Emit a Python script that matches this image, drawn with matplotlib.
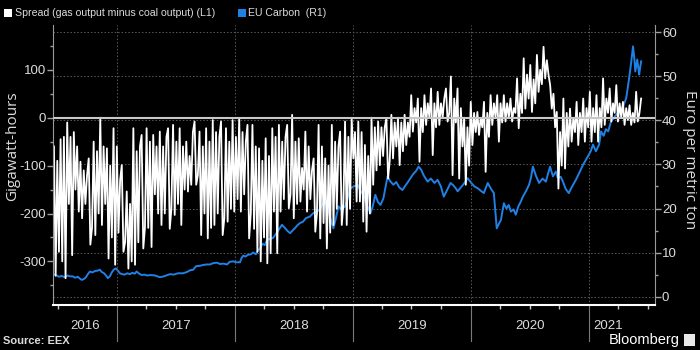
import matplotlib
matplotlib.use("Agg")
import matplotlib.pyplot as plt
import matplotlib.dates as mdates
import matplotlib.transforms as mtransforms
from matplotlib.patches import Rectangle
import numpy as np
import pandas as pd

# ---------------- data ----------------
spread_start = "2016-06-19"
spread_end = "2021-06-11"
spread_gwh = [
    -60, -330, -90, -280, -45, -300, -40, -335, -10, -180, -40, -287, -30, -150, -60, -196,
    -92, -210, -110, -180, -120, -85, -265, -230, -50, -245, -70, -200, 0, -224, -60, -180,
    -64, -294, -100, -250, -22, -307, -60, -240, -130, -99, -280, -260, -154, -315, -180, -300,
    -22, -307, -70, -260, -60, -36, -273, -230, -22, -230, -50, -270, -36, -160, -60, -200,
    -29, -224, -60, -200, -40, -22, -232, -190, -15, -203, -50, -180, -22, -224, -60, -150,
    -50, -154, -80, -140, -30, -8, -140, -120, -29, -245, -60, -200, -22, -252, -50, -230,
    -5, -224, -30, -200, -40, -8, -245, -210, -22, -217, -50, -190, -5, -196, -40, -170,
    -1, -196, -30, -160, -50, -15, -252, -200, -15, -232, -60, -280, -64, -300, -90, -250,
    -43, -304, -80, -283, -22, -196, -40, -283, -15, -196, -50, -170, -40, -15, -189, -160,
    6, -210, -50, -180, -43, -175, -105, -150, -29, -196, -60, -170, -110, -85, -238, -200,
    -15, -252, -60, -220, -85, -273, -100, -240, -15, -224, -50, -190, -60, -29, -224, -180,
    -8, -224, -40, -190, -1, -85, -30, -175, -8, -175, -30, -217, -57, -238, -80, -200,
    0, -140, -20, -110, -8, -99, -20, -80, -20, -1, -127, -90, 6, -85, -10, -60,
    0, -99, -10, -70, 6, -57, -10, -40, 47, -29, 20, -10, 40, -92, 20, -30,
    47, -15, 30, 0, 61, -78, 30, -20, 54, -15, 30, 0, 40, 61, -8, 10,
    86, -120, 40, -10, 61, -127, 20, -60, 0, -140, -20, -100, 33, -57, 10, -30,
    12, -36, 0, -20, 33, -113, 10, -40, 47, -15, 30, 0, 47, -50, 30, -10,
    47, -8, 30, 0, 40, -8, 20, 10, 82, -22, 50, 10, 124, 19, 90, 40,
    110, 12, 80, 30, 131, 54, 100, 70, 148, 82, 120, 90, 68, 19, 50, -20,
    12, -148, -30, -100, 40, -106, 10, -60, 19, -50, 0, -30, 33, -57, 10, -30,
    40, -50, 20, -20, 54, -50, 20, -30, 47, -50, 20, -20, 82, -15, 40, 10,
    61, -8, 30, 10, 68, -8, 30, 0, 33, -15, 20, -5, 26, -15, 10, -10,
    54, -8, 10, 40,
]

carbon_dates = [
    "2016-06-21", "2016-06-27", "2016-07-05", "2016-07-13", "2016-07-22", "2016-08-01", "2016-08-08",
    "2016-08-16", "2016-08-24", "2016-09-01", "2016-09-07", "2016-09-13", "2016-09-20", "2016-09-26",
    "2016-10-02", "2016-10-08", "2016-10-16", "2016-10-24", "2016-11-01", "2016-11-08", "2016-11-14",
    "2016-11-21", "2016-11-27", "2016-12-03", "2016-12-09", "2016-12-15", "2016-12-22", "2016-12-28",
    "2017-01-03", "2017-01-09", "2017-01-16", "2017-01-24", "2017-02-01", "2017-02-09", "2017-02-17",
    "2017-02-24", "2017-03-02", "2017-03-10", "2017-03-18", "2017-03-26", "2017-04-03", "2017-04-15",
    "2017-04-28", "2017-05-06", "2017-05-13", "2017-05-25", "2017-06-05", "2017-06-13", "2017-06-25",
    "2017-07-08", "2017-07-24", "2017-08-05", "2017-08-15", "2017-08-24", "2017-09-02", "2017-09-14",
    "2017-09-25", "2017-10-05", "2017-10-15", "2017-10-25", "2017-11-06", "2017-11-15", "2017-11-25",
    "2017-12-07", "2017-12-15", "2017-12-26", "2018-01-05", "2018-01-16", "2018-01-21", "2018-01-26",
    "2018-02-02", "2018-02-10", "2018-02-18", "2018-02-26", "2018-03-06", "2018-03-12", "2018-03-19",
    "2018-03-27", "2018-04-03", "2018-04-10", "2018-04-18", "2018-04-28", "2018-05-07", "2018-05-15",
    "2018-05-26", "2018-06-04", "2018-06-12", "2018-06-20", "2018-06-28", "2018-07-06", "2018-07-14",
    "2018-07-21", "2018-07-30", "2018-08-08", "2018-08-21", "2018-08-30", "2018-09-12", "2018-09-22",
    "2018-10-02", "2018-10-13", "2018-10-22", "2018-11-01", "2018-11-08", "2018-11-17", "2018-11-26",
    "2018-12-08", "2018-12-16", "2018-12-24", "2019-01-03", "2019-01-15", "2019-01-24", "2019-02-02",
    "2019-02-12", "2019-02-24", "2019-03-03", "2019-03-11", "2019-03-19", "2019-03-27", "2019-04-05",
    "2019-04-18", "2019-04-26", "2019-05-06", "2019-05-15", "2019-05-24", "2019-06-03", "2019-06-12",
    "2019-06-20", "2019-06-28", "2019-07-06", "2019-07-15", "2019-07-23", "2019-07-31", "2019-08-08",
    "2019-08-20", "2019-08-30", "2019-09-10", "2019-09-20", "2019-09-30", "2019-10-09", "2019-10-18",
    "2019-10-30", "2019-11-07", "2019-11-15", "2019-11-21", "2019-12-01", "2019-12-10", "2019-12-22",
    "2020-01-02", "2020-01-12", "2020-01-22", "2020-02-01", "2020-02-10", "2020-02-22", "2020-03-03",
    "2020-03-12", "2020-03-17", "2020-03-21", "2020-03-28", "2020-04-03", "2020-04-12", "2020-04-20",
    "2020-04-27", "2020-05-04", "2020-05-12", "2020-05-19", "2020-05-27", "2020-06-03", "2020-06-10",
    "2020-06-20", "2020-06-29", "2020-07-05", "2020-07-11", "2020-07-20", "2020-07-30", "2020-08-10",
    "2020-08-20", "2020-09-02", "2020-09-11", "2020-09-20", "2020-09-26", "2020-10-05", "2020-10-12",
    "2020-10-20", "2020-10-30", "2020-11-08", "2020-11-21", "2020-12-01", "2020-12-13", "2020-12-28",
    "2021-01-06", "2021-01-13", "2021-01-22", "2021-02-01", "2021-02-07", "2021-02-15", "2021-02-22",
    "2021-03-01", "2021-03-10", "2021-03-18", "2021-03-26", "2021-04-03", "2021-04-10", "2021-04-18",
    "2021-04-26", "2021-05-05", "2021-05-11", "2021-05-17", "2021-05-21", "2021-05-24", "2021-05-27",
    "2021-05-30", "2021-06-02", "2021-06-05", "2021-06-08", "2021-06-11",
]
carbon_eur = [
    5.0, 4.8, 4.5, 4.7, 4.4, 4.8, 4.6,
    4.6, 4.3, 4.5, 4.1, 3.8, 4.0, 4.4,
    5.1, 5.7, 5.5, 5.8, 5.9, 6.1, 5.6,
    5.3, 4.8, 4.2, 4.6, 5.5, 6.2, 6.4,
    5.9, 5.3, 5.1, 5.0, 5.3, 5.1, 5.4,
    5.2, 5.7, 5.2, 4.9, 5.0, 4.8, 4.9,
    4.8, 4.6, 4.4, 4.6, 4.9, 5.1, 5.0,
    5.3, 5.3, 5.6, 6.0, 6.1, 6.9, 7.0,
    7.2, 7.3, 7.3, 7.6, 7.7, 7.4, 7.5,
    7.3, 7.9, 8.0, 7.8, 7.8, 8.8, 9.3,
    9.1, 9.5, 9.6, 10.0, 9.6, 10.4, 11.0,
    12.0, 11.7, 12.9, 13.1, 13.3, 14.2, 15.1,
    16.3, 15.6, 14.9, 14.4, 15.0, 15.6, 16.3,
    16.7, 17.0, 17.8, 18.2, 18.9, 19.3, 20.0,
    21.5, 20.8, 18.0, 15.5, 17.5, 20.5, 19.8,
    20.5, 22.5, 24.6, 25.0, 25.4, 24.0, 23.1,
    21.0, 18.9, 20.5, 23.1, 21.5, 20.8, 22.3,
    27.3, 26.2, 25.4, 26.0, 24.8, 24.2, 25.2,
    26.0, 26.9, 27.8, 28.5, 29.5, 28.8, 27.5,
    26.1, 26.8, 25.8, 26.5, 25.0, 22.7, 24.0,
    25.8, 25.3, 24.6, 23.9, 24.8, 25.6, 26.9,
    25.8, 25.0, 24.6, 24.0, 23.5, 25.8, 24.5,
    23.5, 19.0, 15.5, 16.6, 17.4, 21.2, 20.0,
    20.8, 19.3, 19.8, 18.6, 20.5, 21.5, 22.7,
    24.0, 25.4, 27.0, 29.5, 27.5, 25.8, 26.8,
    26.1, 29.5, 27.3, 28.4, 26.9, 27.2, 26.1,
    24.5, 23.5, 24.8, 26.5, 28.0, 29.9, 31.8,
    33.0, 34.5, 33.0, 34.5, 37.5, 36.5, 38.0,
    37.5, 39.8, 40.5, 41.3, 41.8, 42.4, 43.5,
    45.1, 49.6, 53.0, 56.8, 54.0, 51.1, 52.5,
    53.8, 52.0, 50.4, 52.0, 53.4,
]

year_labels = ["2016", "2017", "2018", "2019", "2020", "2021"]
year_label_dates = ["2016-09-23", "2017-07-02", "2018-07-02", "2019-07-02", "2020-07-01", "2021-03-01"]
year_starts = ["2017-01-01", "2018-01-01", "2019-01-01", "2020-01-01", "2021-01-01"]

left_ticks = [-300, -200, -100, 0, 100]
right_ticks = [0, 10, 20, 30, 40, 50, 60]

legend_spread = "Spread (gas output minus coal output) (L1)"
legend_carbon = "EU Carbon  (R1)"

# ---------------- style ----------------
NARROW = ["Liberation Sans", "DejaVu Sans"]
REG = ["Open Sans", "DejaVu Sans"]
TXT = "#dcdcdc"
BLUE = "#1f80e6"
GRIDC = "#5a5a5a"

spread_x = pd.date_range(spread_start, spread_end, periods=len(spread_gwh))
carbon_x = pd.to_datetime(carbon_dates)

fig = plt.figure(figsize=(7, 3.5), dpi=100, facecolor="black")
W, H = 700, 350
L, R, T, B = 53, 655, 25, 305
ax = fig.add_axes([L / W, 1 - B / H, (R - L) / W, (B - T) / H])
ax2 = ax.twinx()
ax.set_zorder(ax2.get_zorder() + 1)
ax.patch.set_visible(False)
ax2.patch.set_facecolor("black")

ax.set_xlim(pd.Timestamp("2016-06-16"), pd.Timestamp("2021-07-24"))
ax.set_ylim(-391, 193.5)
ax2.set_ylim(-1.9, 61.65)

# grid
ax2.set_yticks(right_ticks)
ax2.yaxis.grid(True, ls=(0, (1.5, 2)), color=GRIDC, lw=0.7)
ax2.set_axisbelow(True)
for d in year_starts:
    ax.axvline(pd.Timestamp(d), ls=(0, (1.5, 2)), color=GRIDC, lw=0.7, zorder=0)

# series
ax2.plot(carbon_x, carbon_eur, color=BLUE, lw=1.4, zorder=2)
ax.plot(spread_x, spread_gwh, color="white", lw=1.3, zorder=2)
ax.axhline(0, color="#c8c8c8", lw=1.5, zorder=3)

# y axes
ax.set_yticks(left_ticks)
ax.set_yticklabels([str(v) for v in left_ticks])
ax.yaxis.set_minor_locator(matplotlib.ticker.MultipleLocator(50))
ax2.yaxis.set_minor_locator(matplotlib.ticker.MultipleLocator(5))
for a in (ax, ax2):
    a.tick_params(axis="y", which="major", direction="out", length=4, width=1,
                  color="#a0a0a0", labelcolor=TXT, labelsize=9.5, pad=1)
    a.tick_params(axis="y", which="minor", direction="out", length=2.5, width=1, color="#a0a0a0")
    for lab in a.get_yticklabels():
        lab.set_family(NARROW)

# x axis
ax.set_xticks(pd.to_datetime(year_starts))
ax.tick_params(axis="x", which="major", length=0, labelbottom=False)
ax.xaxis.set_minor_locator(mdates.MonthLocator(bymonth=[1, 4, 7, 10]))
ax.tick_params(axis="x", which="minor", direction="out", length=3, width=1, color="#cccccc")
ax2.tick_params(axis="x", which="both", length=0, labelbottom=False)

for s in ("top", "right"):
    ax.spines[s].set_visible(False)
for s in ("top", "left", "bottom"):
    ax2.spines[s].set_visible(False)
ax.spines["left"].set_color("#9a9a9a")
ax2.spines["right"].set_color("#9a9a9a")
ax.spines["bottom"].set_color("white")
ax.spines["bottom"].set_linewidth(1.5)

trans = mtransforms.blended_transform_factory(ax.transData, ax.transAxes)
for lab, d in zip(year_labels, year_label_dates):
    ax.text(pd.Timestamp(d), -0.075, lab, transform=trans, ha="center", va="center",
            color=TXT, fontsize=9.5, family=NARROW)
for d in year_starts:
    ax.plot([pd.Timestamp(d)] * 2, [0, -0.13], transform=trans, color="#7a7a7a",
            lw=0.8, clip_on=False)

# axis titles
fig.text(13 / W, 1 - 146 / H, "Gigawatt-hours", rotation=90, ha="center", va="center",
         color=TXT, fontsize=11, family=REG)
fig.text(689 / W, 1 - 160 / H, "Euro per metric ton", rotation=270, ha="center", va="center",
         color=TXT, fontsize=11, family=REG)

# legend
fig.patches.append(Rectangle((4 / W, 1 - 17 / H), 8 / W, 8 / H, transform=fig.transFigure,
                             facecolor="white", edgecolor="none"))
fig.text(15 / W, 1 - 13 / H, legend_spread, ha="left", va="center", color=TXT,
         fontsize=7.6, family=NARROW)
fig.patches.append(Rectangle((238 / W, 1 - 17 / H), 8 / W, 8 / H, transform=fig.transFigure,
                             facecolor=BLUE, edgecolor="none"))
fig.text(248 / W, 1 - 13 / H, legend_carbon, ha="left", va="center", color=TXT,
         fontsize=7.6, family=NARROW)

# footer
fig.text(3 / W, 1 - 341 / H, "Source: EEX", ha="left", va="center", color=TXT,
         fontsize=8, fontweight="bold", family=NARROW)
fig.text(680 / W, 1 - 340 / H, "Bloomberg", ha="right", va="center", color="white",
         fontsize=10.5, family=NARROW)
fig.patches.append(Rectangle((684 / W, 1 - 346 / H), 11 / W, 12 / H, transform=fig.transFigure,
                             facecolor="#e8e8e8", edgecolor="none"))

fig.savefig("out.png", dpi=100, facecolor="black")
